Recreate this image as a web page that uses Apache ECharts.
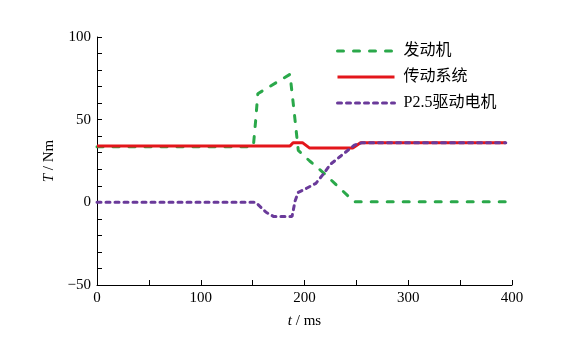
<!DOCTYPE html>
<html>
<head>
<meta charset="utf-8">
<script src="https://cdn.jsdelivr.net/npm/echarts@6/dist/echarts.min.js"></script>
<style>
  html, body { margin: 0; padding: 0; background: #fff; }
  #chart { width: 565px; height: 342px; }
</style>
</head>
<body>
<div id="chart"></div>
<script>
// Series names (legend order)
const seriesNames = ['发动机', '传动系统', 'P2.5驱动电机'];

// Engine torque [t (ms), T (Nm)]
const engineData = [
  [0, 33.6], [150, 33.6], [151, 36], [153, 50], [155, 65.7], [165, 69.5],
  [186, 77.4], [190, 55], [194, 31.4], [205, 25], [218, 18], [235, 8],
  [248, 0.3], [394, 0.3]
];

// Transmission torque
const driveData = [
  [0, 34.0], [186, 34.0], [189, 36.1], [198, 36.1], [205, 32.8],
  [246.5, 32.8], [254, 36.0], [394, 36.0]
];

// P2.5 drive motor torque
const motorData = [
  [0, 0], [153, 0], [158, -3], [163, -6], [170, -8.5], [188, -8.5],
  [191, 1], [194, 6], [202, 8.5], [211, 11.5], [218, 17], [225, 23],
  [235, 28], [248, 34.6], [255, 36], [394, 36]
];

// Axis settings
const xRange = [0, 400];
const xTickStep = 50;
const xLabelStep = 100;
const yRange = [-50, 100];
const yTickStep = 10;
const yLabelStep = 50;

const colors = ['#2aa84a', '#e3161b', '#6a3a9a'];
const serif = '"Liberation Serif", "Times New Roman", "Noto Sans CJK SC", serif';

// Line styles shared by the plotted series and their legend icons
const lineStyles = [
  { color: colors[0], width: 3, type: [6, 10], cap: 'round' },
  { color: colors[1], width: 3, type: 'solid' },
  { color: colors[2], width: 3, type: [4, 5], cap: 'round' }
];

const chart = echarts.init(document.getElementById('chart'), null, { renderer: 'canvas' });

const axisCommon = {
  axisLine: { show: true, onZero: false, lineStyle: { color: '#000', width: 1 } },
  axisTick: { show: true, inside: true, length: 5, lineStyle: { color: '#000', width: 1 } },
  splitLine: { show: false },
  axisLabel: { color: '#000', fontFamily: serif, fontSize: 15, margin: 6 }
};

chart.setOption({
  animation: false,
  backgroundColor: '#fff',
  grid: { left: 97, right: 53, top: 37, bottom: 57, containLabel: false },
  legend: {
    data: seriesNames.map((n, i) => ({ name: n, lineStyle: lineStyles[i] })),
    orient: 'vertical',
    left: 331,
    top: 38,
    itemWidth: 57,
    itemHeight: 16,
    itemGap: 10,
    itemStyle: { opacity: 0 },
    textStyle: { color: '#000', fontFamily: serif, fontSize: 16, lineHeight: 16, padding: [0, 0, 0, 4] }
  },
  xAxis: Object.assign({}, axisCommon, {
    type: 'value',
    min: xRange[0], max: xRange[1], interval: xTickStep,
    name: '{i|t} / ms',
    nameLocation: 'middle',
    nameGap: 29,
    nameTextStyle: {
      color: '#000', fontFamily: serif, fontSize: 15,
      rich: { i: { fontStyle: 'italic', fontFamily: serif, fontSize: 15, color: '#000' } }
    },
    axisLabel: Object.assign({}, axisCommon.axisLabel, {
      formatter: v => (v % xLabelStep === 0 ? String(v) : '')
    })
  }),
  yAxis: Object.assign({}, axisCommon, {
    type: 'value',
    min: yRange[0], max: yRange[1], interval: yTickStep,
    name: '{i|T} / Nm',
    nameLocation: 'middle',
    nameRotate: 90,
    nameGap: 36,
    nameTextStyle: {
      color: '#000', fontFamily: serif, fontSize: 15,
      rich: { i: { fontStyle: 'italic', fontFamily: serif, fontSize: 15, color: '#000' } }
    },
    axisLabel: Object.assign({}, axisCommon.axisLabel, {
      formatter: v => (v % yLabelStep === 0 ? String(v).replace('-', '\u2212') : '')
    })
  }),
  series: seriesNames.map((n, i) => ({
    name: n,
    type: 'line',
    data: [engineData, driveData, motorData][i],
    symbol: 'none',
    lineStyle: lineStyles[i],
    itemStyle: { color: colors[i] }
  }))
});
</script>
</body>
</html>
